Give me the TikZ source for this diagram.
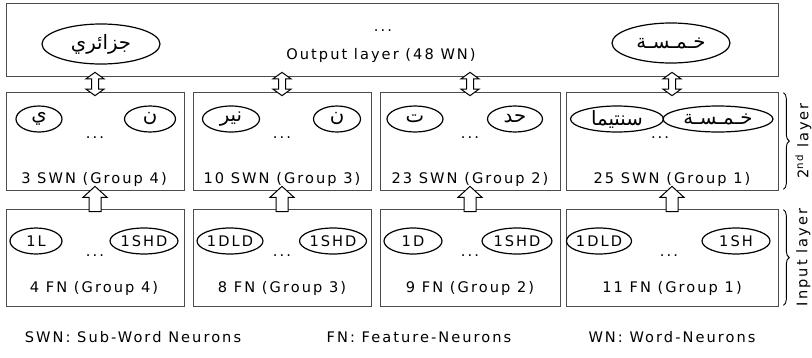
\documentclass[tikz,border=0pt]{standalone}
\usepackage{fontspec}
\setmainfont{DejaVu Sans}[LetterSpace=14]
\newfontfamily\arabicfont[Script=Arabic,Scale=1.35]{DejaVu Sans}
\TeXXeTstate=1
\usetikzlibrary{shapes.geometric,decorations.pathreplacing,calc}

\newcommand{\ar}[1]{{\arabicfont\beginR #1\endR}}

\tikzset{
  groupbox/.style={draw=black!70, line width=0.7pt, rectangle, inner sep=0pt},
  neuron/.style={ellipse, draw, line width=1.2pt, inner sep=0pt, minimum height=26pt},
  lbl/.style={anchor=base, inner sep=0pt},
  dots/.style={inner sep=0pt},
  % hollow upward block arrow between two vertically aligned anchors
  fatup/.style={draw, line width=1pt, fill=white, to path={
    let \p1=(\tikztostart), \p2=(\tikztotarget) in
    (\x1-6,\y1) -- (\x1-6,\y2-11) -- (\x1-12,\y2-11) -- (\x1,\y2)
    -- (\x1+12,\y2-11) -- (\x1+6,\y2-11) -- (\x1+6,\y1) -- cycle}},
  % hollow double-headed block arrow
  fatboth/.style={draw, line width=1pt, fill=white, to path={
    let \p1=(\tikztostart), \p2=(\tikztotarget) in
    (\x1,\y1) -- (\x1-9,\y1+6.5) -- (\x1-3.5,\y1+6.5) -- (\x1-3.5,\y2-6.5)
    -- (\x1-9,\y2-6.5) -- (\x1,\y2) -- (\x1+9,\y2-6.5) -- (\x1+3.5,\y2-6.5)
    -- (\x1+3.5,\y1+6.5) -- (\x1+9,\y1+6.5) -- cycle}},
  layerbrace/.style={decorate, decoration={brace, amplitude=6pt}, line width=0.9pt},
}

\begin{document}
\begin{tikzpicture}[x=1pt, y=-1pt, font=\fontsize{14.6}{17}\selectfont]
\useasboundingbox (0,0) rectangle (812,357);

% output layer
\node[groupbox, minimum width=772pt, minimum height=73pt] (out) at (392,39.5) {};
\node[neuron, minimum width=118pt, minimum height=40pt] (o1) at (101,44) {\ar{جزائري}};
\node[neuron, minimum width=118pt, minimum height=40pt] (o2) at (671,43) {\ar{خـمـسـة}};
\node[dots] (odots) at (383,31) {...};
\node[lbl] (olbl) at (381,59) {Output layer (48 WN)};

% second layer (sub-word neurons)
\node[groupbox, minimum width=178pt, minimum height=98pt] (s4) at (95,141) {};
\node[groupbox, minimum width=178pt, minimum height=98pt] (s3) at (282,141) {};
\node[groupbox, minimum width=180pt, minimum height=98pt] (s2) at (470,141) {};
\node[groupbox, minimum width=212pt, minimum height=98pt] (s1) at (672,141) {};

\node[neuron, minimum width=46pt] (s4a) at (39,119) {\ar{ي}};
\node[neuron, minimum width=51pt] (s4b) at (150,119) {\ar{ن}};
\node[neuron, minimum width=57pt] (s3a) at (231,119) {\ar{نير}};
\node[neuron, minimum width=47pt] (s3b) at (337,119) {\ar{ن}};
\node[neuron, minimum width=56pt] (s2a) at (415,119) {\ar{ت}};
\node[neuron, minimum width=55pt] (s2b) at (515,119) {\ar{حد}};
\node[neuron, minimum width=93pt] (s1a) at (617,119) {\ar{سنتيما}};
\node[neuron, minimum width=110pt] (s1b) at (718,119) {\ar{خـمـسـة}};

\node[dots] (s4d) at (95,138) {...};
\node[dots] (s3d) at (282,138) {...};
\node[dots] (s2d) at (470,138) {...};
\node[dots] (s1d) at (660,138) {...};

\node[lbl] (s4l) at (94,183) {3 SWN (Group 4)};
\node[lbl] (s3l) at (282,183) {10 SWN (Group 3)};
\node[lbl] (s2l) at (470,183) {23 SWN (Group 2)};
\node[lbl] (s1l) at (672,183) {25 SWN (Group 1)};

% input layer (feature neurons)
\node[groupbox, minimum width=178pt, minimum height=97pt] (f4) at (95,257.5) {};
\node[groupbox, minimum width=178pt, minimum height=97pt] (f3) at (282,257.5) {};
\node[groupbox, minimum width=180pt, minimum height=97pt] (f2) at (470,257.5) {};
\node[groupbox, minimum width=212pt, minimum height=97pt] (f1) at (672,257.5) {};

\node[neuron, minimum width=52pt] (f4a) at (36,241) {1L};
\node[neuron, minimum width=68pt] (f4b) at (144,241) {1SHD};
\node[neuron, minimum width=66pt] (f3a) at (230,241) {1DLD};
\node[neuron, minimum width=67pt] (f3b) at (333,241) {1SHD};
\node[neuron, minimum width=58pt] (f2a) at (413,241) {1D};
\node[neuron, minimum width=70pt] (f2b) at (517,241) {1SHD};
\node[neuron, minimum width=62pt] (f1a) at (599,241) {1DLD};
\node[neuron, minimum width=68pt] (f1b) at (736,241) {1SH};

\node[dots] (f4d) at (95,256) {...};
\node[dots] (f3d) at (282,256) {...};
\node[dots] (f2d) at (470,256) {...};
\node[dots] (f1d) at (669,256) {...};

\node[lbl] (f4l) at (94,292) {4 FN (Group 4)};
\node[lbl] (f3l) at (282,292) {8 FN (Group 3)};
\node[lbl] (f2l) at (470,292) {9 FN (Group 2)};
\node[lbl] (f1l) at (672,292) {11 FN (Group 1)};

% block arrows between layers
\foreach \g in {1,2,3,4} {
  \path[fatup] ($(f\g.north)+(0,3)$) to ($(s\g.south)+(0,-4)$);
  \path[fatboth] ($(s\g.north)+(0,4)$) to ($(out.south)+(0,-4)$);
}

% layer braces
\coordinate (b2t) at ($(s1.north east)+(5,1)$);
\coordinate (b2b) at ($(s1.south east)+(5,-1)$);
\coordinate (b1t) at ($(f1.north east)+(5,1)$);
\coordinate (b1b) at ($(f1.south east)+(5,-1)$);
\draw[layerbrace] (b2t) -- (b2b) node[midway, xshift=20pt, rotate=90] (l2) {2\textsuperscript{nd} layer};
\draw[layerbrace] (b1t) -- (b1b) node[midway, xshift=20pt, rotate=90] (l1) {Input layer};

% legend
\node[lbl] (leg1) at (133,342) {SWN: Sub-Word Neurons};
\node[lbl] (leg2) at (419,342) {FN: Feature-Neurons};
\node[lbl] (leg3) at (672,342) {WN: Word-Neurons};
\end{tikzpicture}
\end{document}
